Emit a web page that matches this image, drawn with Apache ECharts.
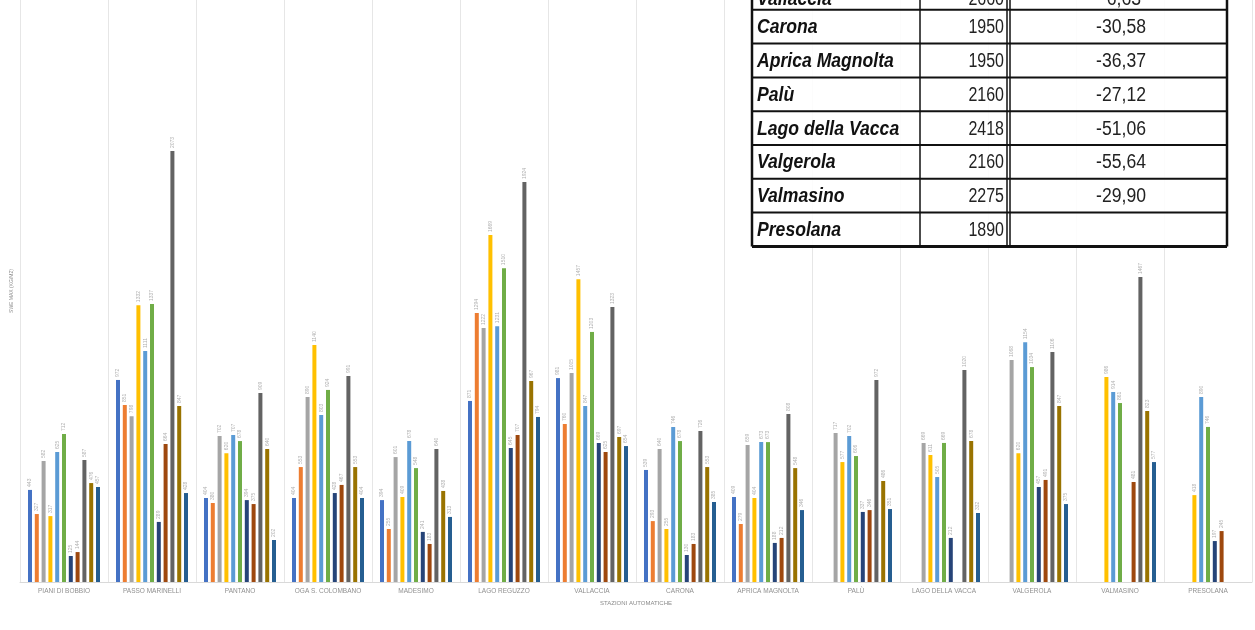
<!DOCTYPE html>
<html><head><meta charset="utf-8">
<script src="https://cdn.jsdelivr.net/npm/echarts@6/dist/echarts.min.js"></script>
<style>html,body{margin:0;padding:0;background:#fff;overflow:hidden}#c{width:1255px;height:630px}</style>
</head><body><div id="c"></div>
<script>
const categories = ['PIANI DI BOBBIO','PASSO MARINELLI','PANTANO','OGA S. COLOMBANO','MADESIMO','LAGO REGUZZO','VALLACCIA','CARONA','APRICA MAGNOLTA','PALÙ','LAGO DELLA VACCA','VALGEROLA','VALMASINO','PRESOLANA'];
const seriesNames = ['Serie 1','Serie 2','Serie 3','Serie 4','Serie 5','Serie 6','Serie 7','Serie 8','Serie 9','Serie 10','Serie 11'];
const s1  = [443, 972, 404, 404, 394, 871, 981, 539, 409, null, null, null, null, null];
const s2  = [327, 851, 380, 553, 255, 1294, 760, 293, 279, null, null, null, null, null];
const s3  = [582, 798, 702, 890, 601, 1222, 1005, 640, 659, 717, 669, 1068, null, null];
const s4  = [317, 1332, 620, 1140, 409, 1669, 1457, 255, 404, 577, 611, 620, 986, 418];
const s5  = [625, 1111, 707, 803, 678, 1231, 847, 746, 673, 702, 505, 1154, 914, 890];
const s6  = [712, 1337, 678, 924, 548, 1510, 1203, 678, 673, 606, 669, 1034, 861, 746];
const s7  = [125, 289, 394, 428, 241, 645, 669, 130, 188, 337, 212, 457, null, 197];
const s8  = [144, 664, 375, 467, 183, 707, 625, 183, 212, 346, null, 491, 481, 245];
const s9  = [587, 2073, 909, 991, 640, 1924, 1323, 726, 808, 972, 1020, 1106, 1467, null];
const s10 = [476, 847, 640, 553, 438, 967, 697, 553, 548, 486, 678, 847, 823, null];
const s11 = [457, 428, 202, 404, 313, 794, 654, 385, 346, 351, 332, 375, 577, null];
const seriesValues = [s1, s2, s3, s4, s5, s6, s7, s8, s9, s10, s11];
const colors = ['#4472C4','#ED7D31','#A5A5A5','#FFC000','#5B9BD5','#70AD47','#264478','#9E480E','#636363','#997300','#255E91'];

const tableNames = ['Vallaccia','Carona','Aprica Magnolta','Palù','Lago della Vacca','Valgerola','Valmasino','Presolana'];
const tableAltitudes = ['2660','1950','1950','2160','2418','2160','2275','1890'];
const tableChanges = ['-6,63','-30,58','-36,37','-27,12','-51,06','-55,64','-29,90',''];

const chart = echarts.init(document.getElementById('c'), null, {renderer: 'canvas'});

const series = seriesValues.map((vals, i) => ({
  name: seriesNames[i],
  type: 'bar',
  data: vals,
  barWidth: 4,
  barGap: '70%',
  itemStyle: {color: colors[i]},
  label: {
    show: true, position: 'top', rotate: 90, align: 'left', verticalAlign: 'middle',
    distance: 3, fontSize: 5, color: '#b0b0b0', fontFamily: 'Liberation Sans'
  }
}));

// table as graphic elements
const T = {x0: 752, x1: 920, x2: 1007, x3: 1010, x4: 1227, top: -24, rowH: 33.8};
const nRows = tableNames.length;
const tBottom = T.top + nRows * T.rowH;
const FONT = 'Liberation Sans, sans-serif';
const graphic = [];
graphic.push({type: 'rect', shape: {x: T.x0, y: T.top, width: T.x4 - T.x0, height: nRows * T.rowH},
  style: {fill: 'rgba(255,255,255,0.88)'}, z: 100});
for (let r = 0; r <= nRows; r++) {
  const y = T.top + r * T.rowH;
  graphic.push({type: 'line', shape: {x1: T.x0, y1: y, x2: T.x4, y2: y},
    style: {stroke: '#111', lineWidth: r === nRows ? 3 : 2}, z: 101});
}
[T.x0, T.x1, T.x2, T.x3, T.x4].forEach((x, k) => {
  graphic.push({type: 'line', shape: {x1: x, y1: T.top, x2: x, y2: tBottom},
    style: {stroke: '#111', lineWidth: (k === 0 || k === 4) ? 2.5 : 1.5}, z: 101});
});
for (let r = 0; r < nRows; r++) {
  const cy = T.top + (r + 0.5) * T.rowH + 1 + (r === 0 ? 6 : 0);
  graphic.push({type: 'text', x: T.x0 + 5, y: cy, z: 102, scaleX: 0.88,
    style: {text: tableNames[r], fontFamily: FONT,
      fontStyle: 'italic', fontWeight: 'bold', fontSize: 20, fill: '#111',
      textAlign: 'left', textVerticalAlign: 'middle'}});
  graphic.push({type: 'text', x: T.x2 - 3, y: cy, z: 102, scaleX: 0.8,
    style: {text: tableAltitudes[r], fontFamily: FONT,
      fontSize: 20, fill: '#222', textAlign: 'right', textVerticalAlign: 'middle'}});
  graphic.push({type: 'text', x: 1121, y: cy, z: 102, scaleX: 0.88,
    style: {text: tableChanges[r], fontFamily: FONT,
      fontSize: 20, fill: '#222', textAlign: 'center', textVerticalAlign: 'middle'}});
}

chart.setOption({
  animation: false,
  backgroundColor: '#fff',
  grid: {left: 20, right: 3, top: 0, bottom: 48, containLabel: false},
  xAxis: {
    type: 'category', data: categories,
    name: 'STAZIONI AUTOMATICHE', nameLocation: 'middle', nameGap: 18,
    nameTextStyle: {fontSize: 6, color: '#8a8a8a', fontFamily: 'Liberation Sans'},
    axisLine: {lineStyle: {color: '#d9d9d9'}},
    axisTick: {show: false},
    axisLabel: {fontSize: 6.5, color: '#909090', margin: 6, fontFamily: 'Liberation Sans', interval: 0},
    splitLine: {show: true, lineStyle: {color: '#e6e6e6', width: 1}}
  },
  yAxis: {
    type: 'value', min: 0, max: 2800,
    name: 'SWE MAX (KG/M2)', nameLocation: 'middle', nameRotate: 90, nameGap: 6,
    nameTextStyle: {fontSize: 5, color: '#8a8a8a', fontFamily: 'Liberation Sans'},
    axisLine: {show: false}, axisTick: {show: false}, axisLabel: {show: false},
    splitLine: {show: false}
  },
  series: series,
  graphic: graphic
});
</script>
</body></html>
